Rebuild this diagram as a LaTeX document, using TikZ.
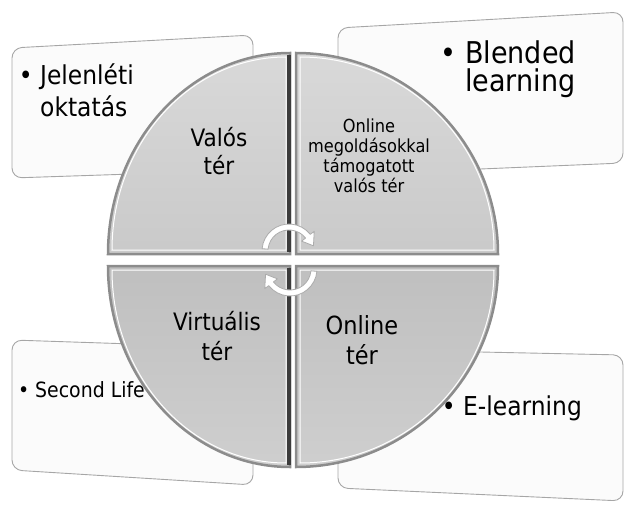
\documentclass[tikz,border=0pt]{standalone}
\usepackage{fontspec}
\setmainfont[FakeStretch=0.9]{DejaVu Sans}
\definecolor{quadedge}{HTML}{8C8C8C}
\definecolor{quadside}{HTML}{3C3C3C}
\definecolor{boxedge}{HTML}{A6A6A6}
\begin{document}
\begin{tikzpicture}[
			x=1pt, y=1pt,
			listbox/.style={draw=boxedge, line width=0.9pt, fill=gray!3, rounded corners=10pt},
			upperquad/.style={draw=quadedge, line width=2.5pt, top color=gray!30, bottom color=gray!42},
			lowerquad/.style={draw=quadedge, line width=2.5pt, top color=gray!50, bottom color=gray!38},
			bevel/.style={draw=white, line width=1pt},
			sideface/.style={draw=quadside, line width=3.5pt},
			cyclearrow/.style={fill=white, draw=gray!65, line width=0.8pt, line join=round},
			quadtext/.style={align=center, inner sep=0pt},
			itemtext/.style={align=left, inner sep=0pt}
		]
		\useasboundingbox (0,0) rectangle (626,504);
		\draw[listbox] (12,456) -- (253,469) -- (253,334) -- (12,326) -- cycle;
		\draw[listbox] (338,476) -- (623,492) -- (623,341) -- (338,329) -- cycle;
		\draw[listbox] (12,164) -- (253,156) -- (253,19) -- (12,34) -- cycle;
		\draw[listbox] (338,155) -- (623,149) -- (623,3) -- (338,16) -- cycle;
		\draw[upperquad] (290,250) -- (290,451) arc[start angle=90, end angle=180, x radius=182, y radius=201] -- cycle;
		\draw[upperquad] (296,250) -- (296,451) arc[start angle=90, end angle=0, x radius=202, y radius=201] -- cycle;
		\draw[lowerquad] (290,238) -- (290,37) arc[start angle=270, end angle=180, x radius=182, y radius=201] -- cycle;
		\draw[lowerquad] (296,238) -- (296,37) arc[start angle=270, end angle=360, x radius=202, y radius=201] -- cycle;
		\draw[bevel] (286,254) -- (286,447) arc[start angle=90, end angle=180, x radius=174, y radius=193] -- cycle;
		\draw[bevel] (300,254) -- (300,447) arc[start angle=90, end angle=0, x radius=194, y radius=193] -- cycle;
		\draw[bevel] (286,234) -- (286,41) arc[start angle=270, end angle=180, x radius=174, y radius=193] -- cycle;
		\draw[bevel] (300,234) -- (300,41) arc[start angle=270, end angle=360, x radius=194, y radius=193] -- cycle;
		\draw[sideface] (289,252) -- (289,449);
		\draw[sideface] (289,236) -- (289,39);
		\node[itemtext, font=\fontsize{26}{32}\selectfont, anchor=west] (jelenleti) at (40,414) {\llap{\textbullet\ }Jelenléti\\oktatás};
		\node[itemtext, font=\fontsize{30}{27.5}\selectfont, anchor=west] (blended) at (465,435) {\llap{\textbullet\ }Blended\\learning};
		\node[itemtext, font=\fontsize{21}{25}\selectfont, anchor=base west] (secondlife) at (35,107) {\llap{\textbullet\ }Second Life};
		\node[itemtext, font=\fontsize{26}{30}\selectfont, anchor=base west] (elearning) at (463,89) {\llap{\textbullet\ }E-learning};
		\node[quadtext, font=\fontsize{24}{28}\selectfont] (valos) at (219,353) {Valós\\tér};
		\node[quadtext, font=\fontsize{18}{20}\selectfont] (tamogatott) at (369,348) {Online\\megoldásokkal\\támogatott\\valós tér};
		\node[quadtext, font=\fontsize{24}{30}\selectfont] (virtualis) at (217,168) {Virtuális\\tér};
		\node[quadtext, font=\fontsize{25}{30}\selectfont] (online) at (362,164) {Online\\tér};
		\begin{scope}[shift={(289,253)}]
			\draw[cyclearrow] (175:27) arc[start angle=175, end angle=38, radius=27] -- (38:32) -- (12:25) -- (38:16) -- (38:21) arc[start angle=38, end angle=175, radius=21] -- cycle;
		\end{scope}
		\begin{scope}[shift={(290,235)}]
			\draw[cyclearrow] (-5:27) arc[start angle=-5, end angle=-142, radius=27] -- (-142:32) -- (-168:25) -- (-142:16) -- (-142:21) arc[start angle=-142, end angle=-5, radius=21] -- cycle;
		\end{scope}
\end{tikzpicture}
\end{document}
